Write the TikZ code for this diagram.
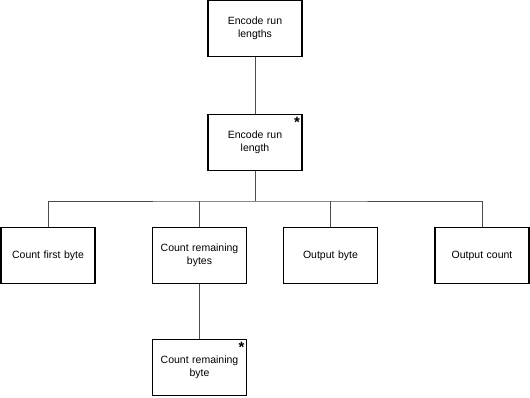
\documentclass[tikz,border=0pt]{standalone}
\usepackage{fontspec}
\setmainfont{Liberation Sans}
\usetikzlibrary{calc}
\begin{document}
\begin{tikzpicture}[x=1pt,y=-1pt,
  box/.style={draw=black, line width=1.3pt, fill=white, minimum width=94pt, minimum height=56pt,
    inner sep=2pt, align=center, text width=88pt, font=\fontsize{10.5}{12.7}\selectfont},
  link/.style={draw=black!70, line width=0.9pt},
  star/.style={anchor=north east, inner sep=0pt, font=\bfseries\fontsize{15}{15}\selectfont}]
\useasboundingbox (0,0) rectangle (530,398);
\node[box] (root) at (255,28.6) {Encode run\\lengths};
\node[box] (enc) at (255,142.5) {Encode run\\length};
\node[box] (a) at (48,255.5) {Count first byte};
\node[box] (b) at (199.5,255.5) {Count remaining\\bytes};
\node[box] (c) at (330.5,255.5) {Output byte};
\node[box] (d) at (482,255.5) {Output count};
\node[box] (e) at (199.5,367.5) {Count remaining\\byte};
\node[star] (s1) at ($(enc.north east)+(-2.5,3)$) {*};
\node[star] (s2) at ($(e.north east)+(-2.5,3)$) {*};
\coordinate (bus) at (255,201);
\draw[link] (root.south) -- (enc.north);
\draw[link] (enc.south) -- (bus);
\draw[link] (a.north) |- (bus) -| (d.north);
\draw[link] (b.north) -- (b.north |- bus);
\draw[link] (c.north) -- (c.north |- bus);
\draw[link] (b.south) -- (e.north);
\end{tikzpicture}
\end{document}
